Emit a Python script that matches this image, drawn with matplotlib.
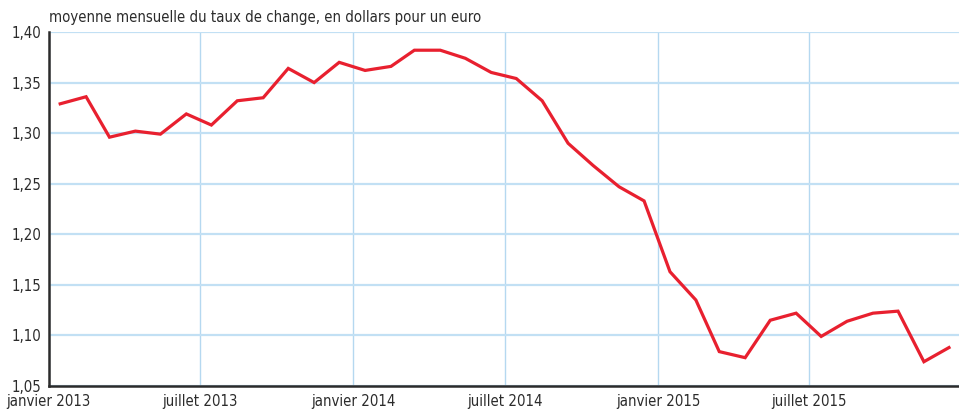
#Taux de change euro / dollar, moyenne mensuelle 2013-2015
import numpy as np
import pandas as pd
import matplotlib
matplotlib.use('Agg')
import matplotlib.pyplot as plt
from matplotlib import font_manager

#Police etroite si disponible
polices = font_manager.fontManager.ttflist
noms = set(f.name for f in polices)
etroite = [f for f in polices if f.name == 'DejaVu Sans' and f.stretch == 'condensed']
if 'Liberation Sans Narrow' in noms:
    famille, etirement = 'Liberation Sans Narrow', 'normal'
elif etroite:
    famille, etirement = 'DejaVu Sans', 'condensed'
else:
    famille, etirement = 'Liberation Sans', 'normal'
plt.rcParams['font.family'] = [famille, 'DejaVu Sans']
plt.rcParams['font.stretch'] = etirement

#Donnees
mois = pd.date_range('2013-01-01', periods=36, freq='MS')
taux = [1.329, 1.336, 1.296, 1.302, 1.299, 1.319, 1.308, 1.332, 1.335, 1.364, 1.350, 1.370,
        1.362, 1.366, 1.382, 1.382, 1.374, 1.360, 1.354, 1.332, 1.290, 1.268, 1.247, 1.233,
        1.163, 1.135, 1.084, 1.078, 1.115, 1.122, 1.099, 1.114, 1.122, 1.124, 1.074, 1.088]
graduations = pd.to_datetime(['2013-01-01', '2013-07-01', '2014-01-01',
                              '2014-07-01', '2015-01-01', '2015-07-01'])
etiquettes = ['janvier 2013', 'juillet 2013', 'janvier 2014',
              'juillet 2014', 'janvier 2015', 'juillet 2015']
yticks = [1.05, 1.10, 1.15, 1.20, 1.25, 1.30, 1.35, 1.40]
titre = 'moyenne mensuelle du taux de change, en dollars pour un euro'

fig = plt.figure(figsize=(9.59, 4.13), dpi=100)
ax = fig.add_axes([48.5/959, 27/413, 1 - 48.5/959, 354/413])

#Taille de police ajustee pour que le titre fasse ~434 px de large
t = fig.text(49/959, 1 - 22/413, titre, fontsize=12.5, color='#2b2b2b', ha='left', va='baseline')
rend = fig.canvas.get_renderer()
largeur = t.get_window_extent(rend).width
taille = min(13.0, 12.5 * 434 / largeur)
t.set_fontsize(taille)

#point au milieu du mois
x = mois + pd.Timedelta(days=14)
ax.plot(x, taux, color='#e8202f', lw=2.3, solid_joinstyle='miter', zorder=3)

ax.set_xlim(pd.Timestamp('2013-01-01'), pd.Timestamp('2015-12-27'))
ax.set_ylim(1.05, 1.40)
ax.set_xticks(graduations)
ax.set_xticklabels(etiquettes)
ax.set_yticks(yticks)
ax.set_yticklabels([('%.2f' % v).replace('.', ',') for v in yticks])

ax.grid(True, axis='y', color='#c2e0f4', lw=1.6)
ax.grid(True, axis='x', color='#b5d8f0', lw=1.0)
ax.set_axisbelow(True)

for s in ['top', 'right']:
    ax.spines[s].set_visible(False)
for s in ['left', 'bottom']:
    ax.spines[s].set_color('#2b2b2b')
    ax.spines[s].set_linewidth(1.8)
ax.tick_params(length=0, labelsize=taille, colors='#2b2b2b')
ax.tick_params(axis='x', pad=6)
ax.tick_params(axis='y', pad=5)

plt.savefig('out.png', dpi=100)
